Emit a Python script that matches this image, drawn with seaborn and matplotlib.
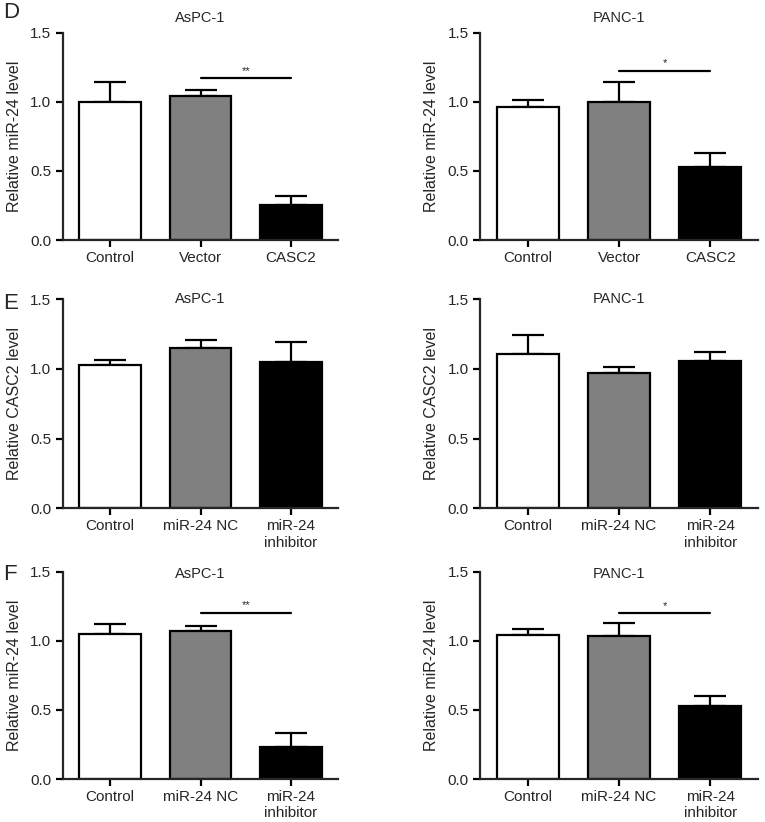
import matplotlib
matplotlib.use("Agg")
import matplotlib.pyplot as plt
import pandas as pd
import seaborn as sns

sns.set_style("ticks")
plt.rcParams["font.family"] = ["Liberation Sans", "DejaVu Sans"]

# ---------------------------------------------------------------------------
# Data
# ---------------------------------------------------------------------------
groups_d = ["Control", "Vector", "CASC2"]
groups_ef = ["Control", "miR-24 NC", "miR-24\ninhibitor"]
bar_colors = ["white", "#808080", "black"]

d_aspc1_mean = [1.00, 1.04, 0.255]
d_aspc1_err = [0.145, 0.047, 0.066]
d_panc1_mean = [0.962, 1.003, 0.527]
d_panc1_err = [0.055, 0.143, 0.100]

e_aspc1_mean = [1.029, 1.151, 1.053]
e_aspc1_err = [0.036, 0.059, 0.139]
e_panc1_mean = [1.105, 0.974, 1.057]
e_panc1_err = [0.139, 0.038, 0.067]

f_aspc1_mean = [1.049, 1.073, 0.229]
f_aspc1_err = [0.071, 0.037, 0.101]
f_panc1_mean = [1.039, 1.032, 0.531]
f_panc1_err = [0.046, 0.099, 0.072]

# significance bars: (label, height) or None
d_aspc1_sig = ("**", 1.17)
d_panc1_sig = ("*", 1.225)
f_aspc1_sig = ("**", 1.203)
f_panc1_sig = ("*", 1.198)

YLAB_MIR = "Relative miR-24 level"
YLAB_CASC = "Relative CASC2 level"


def _panel(fig, rect, groups, means, errs, title, ylabel, sig=None, title_y=1.0):
    ax = fig.add_axes(rect)
    df = pd.DataFrame({"group": groups, "value": means})
    sns.barplot(data=df, x="group", y="value", hue="group", palette=bar_colors,
                edgecolor="black", linewidth=1.6, width=0.68, legend=False,
                saturation=1, ax=ax)
    ax.errorbar(range(len(groups)), means, yerr=[[0] * len(errs), errs],
                fmt="none", ecolor="black", elinewidth=1.6, capsize=11.5,
                capthick=1.6, zorder=1)
    for patch in ax.patches:
        patch.set_zorder(2)

    ax.set_xlim(-0.52, 2.52)
    ax.set_ylim(0, 1.5)
    ax.set_yticks([0.0, 0.5, 1.0, 1.5])
    ax.set_yticklabels(["0.0", "0.5", "1.0", "1.5"])
    ax.set_xlabel("")
    ax.set_ylabel(ylabel, fontsize=11.5, labelpad=6)
    ax.tick_params(axis="both", labelsize=11, width=1.6, length=5, color="black")
    ax.tick_params(axis="x", pad=3)
    for s in ("left", "bottom"):
        ax.spines[s].set_linewidth(1.6)
    sns.despine(ax=ax)
    ax.spines["left"].set_bounds(0, 1.5)

    ax.text(0.5, title_y, title, transform=ax.transAxes, ha="center",
            va="center", fontsize=10.5)

    if sig is not None:
        label, h = sig
        ax.plot([1, 2], [h, h], color="black", lw=1.6, clip_on=False)
        ax.text(1.5, h + 0.02, label, ha="center", va="bottom", fontsize=8)
    return ax


fig = plt.figure(figsize=(7.65, 8.22), dpi=100)

left_l, width_l = 0.0824, 0.3595
left_r, width_r = 0.628, 0.3625
row_d = (0.708, 0.252)
row_e = (0.3816, 0.2543)
row_f = (0.0523, 0.2522)

_panel(fig, [left_l, row_d[0], width_l, row_d[1]], groups_d,
       d_aspc1_mean, d_aspc1_err, "AsPC-1", YLAB_MIR, d_aspc1_sig, title_y=1.072)
_panel(fig, [left_r, row_d[0], width_r, row_d[1]], groups_d,
       d_panc1_mean, d_panc1_err, "PANC-1", YLAB_MIR, d_panc1_sig, title_y=1.072)

_panel(fig, [left_l, row_e[0], width_l, row_e[1]], groups_ef,
       e_aspc1_mean, e_aspc1_err, "AsPC-1", YLAB_CASC)
_panel(fig, [left_r, row_e[0], width_r, row_e[1]], groups_ef,
       e_panc1_mean, e_panc1_err, "PANC-1", YLAB_CASC)

_panel(fig, [left_l, row_f[0], width_l, row_f[1]], groups_ef,
       f_aspc1_mean, f_aspc1_err, "AsPC-1", YLAB_MIR, f_aspc1_sig, title_y=0.99)
_panel(fig, [left_r, row_f[0], width_r, row_f[1]], groups_ef,
       f_panc1_mean, f_panc1_err, "PANC-1", YLAB_MIR, f_panc1_sig, title_y=0.99)

for letter, y in [("D", 0.997), ("E", 0.643), ("F", 0.314)]:
    fig.text(0.004, y, letter, ha="left", va="top", fontsize=16)

fig.savefig("out.png", dpi=100)
